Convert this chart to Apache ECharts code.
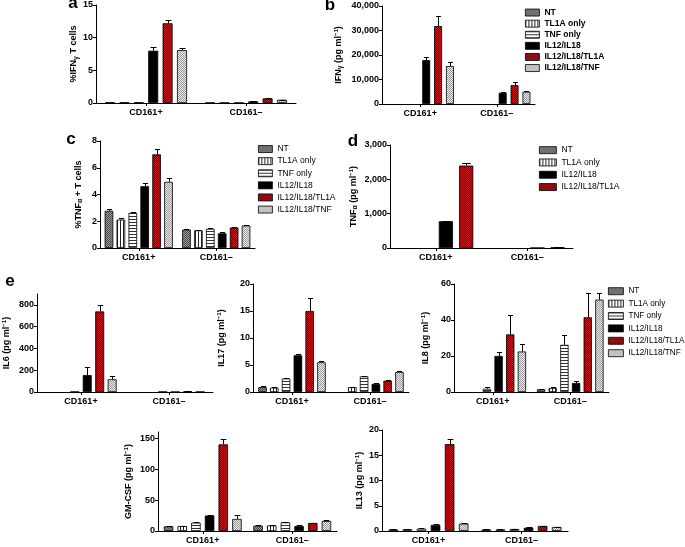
<!DOCTYPE html>
<html><head><meta charset="utf-8">
<script src="https://cdn.jsdelivr.net/npm/echarts/dist/echarts.min.js"></script>
<style>html,body{margin:0;padding:0;background:#fff}#c{width:685px;height:547px}</style>
</head><body><div id="c"></div>
<script>
// ---------- DATA ----------
const groups = ['CD161+', 'CD161–'];
const treatments6 = ['NT', 'TL1A only', 'TNF only', 'IL12/IL18', 'IL12/IL18/TL1A', 'IL12/IL18/TNF'];
const treatments4 = ['NT', 'TL1A only', 'IL12/IL18', 'IL12/IL18/TL1A'];

// each row = one treatment, values [CD161+, CD161–]
// a: %IFNγ T cells
const ifngPctMean = [[0.1, 0.05], [0.1, 0.05], [0.1, 0.05], [8.0, 0.25], [12.2, 0.7], [8.1, 0.5]];
const ifngPctErr  = [[0, 0], [0, 0], [0, 0], [0.6, 0.03], [0.45, 0.05], [0.25, 0.03]];
const ifngPctTicks = [0, 5, 10, 15];
// b: IFNγ pg/ml
const ifngMean = [[null, null], [null, null], [null, null], [17900, 4600], [31800, 7700], [15500, 5000]];
const ifngErr  = [[0, 0], [0, 0], [0, 0], [1300, 350], [4300, 1100], [1600, 400]];
const ifngTicks = [0, 10000, 20000, 30000, 40000];
// c: %TNFα + T cells
const tnfPctMean = [[2.78, 1.38], [2.12, 1.32], [2.62, 1.43], [4.62, 1.1], [7.0, 1.53], [4.95, 1.68]];
const tnfPctErr  = [[0.17, 0.06], [0.15, 0.05], [0.06, 0.1], [0.24, 0.08], [0.4, 0.07], [0.32, 0.07]];
const tnfPctTicks = [0, 2, 4, 6, 8];
// d: TNFα pg/ml (4 treatments)
const tnfMean = [[null, null], [null, null], [780, 3], [2400, 15]];
const tnfErr  = [[0, 0], [0, 0], [12, 0], [70, 2]];
const tnfTicks = [0, 1000, 2000, 3000];
// e: IL6
const il6Mean = [[null, null], [null, null], [2, 2], [155, 1], [740, 8], [117, 2]];
const il6Err  = [[0, 0], [0, 0], [0, 0], [78, 0], [58, 2], [28, 0]];
const il6Ticks = [0, 200, 400, 600, 800];
// e: IL17
const il17Mean = [[0.9, null], [0.8, 0.9], [2.5, 2.9], [6.8, 1.5], [15.0, 2.1], [5.5, 3.7]];
const il17Err  = [[0.15, 0], [0.1, 0.1], [0.15, 0.1], [0.3, 0.15], [2.4, 0.05], [0.3, 0.15]];
const il17Ticks = [0, 5, 10, 15, 20];
// e: IL8
const il8Mean = [[null, 1.5], [null, 2.2], [1.8, 26.2], [20, 5], [32, 41.5], [22.5, 51.3]];
const il8Err  = [[0, 0.2], [0, 0.8], [1, 5.2], [2.5, 0.9], [10.8, 13.5], [4.3, 3.7]];
const il8Ticks = [0, 20, 40, 60];
// e: GM-CSF
const gmcsfMean = [[7.5, 8.5], [8, 9], [13.5, 14], [25, 8], [140, 13], [19.5, 16]];
const gmcsfErr  = [[1, 0.5], [0.5, 0.5], [1, 1], [0.5, 1], [8, 0.5], [6, 1]];
const gmcsfTicks = [0, 50, 100, 150];
// e: IL13
const il13Mean = [[0.3, 0.3], [0.35, 0.3], [0.45, 0.4], [1.2, 0.65], [17.2, 1.0], [1.45, 0.8]];
const il13Err  = [[0.05, 0.05], [0.05, 0.05], [0.05, 0.05], [0.25, 0.05], [1.1, 0.05], [0.1, 0.05]];
const il13Ticks = [0, 5, 10, 15, 20];

// ---------- STYLE ----------
const FONT = 'Liberation Sans, Arial, sans-serif';
function pat(w, h, draw) {
  const c = document.createElement('canvas'); c.width = w; c.height = h;
  draw(c.getContext('2d')); return { image: c, repeat: 'repeat' };
}
const fills = {
  'NT': pat(2, 2, x => { x.fillStyle = '#9c9c9c'; x.fillRect(0, 0, 2, 2); x.fillStyle = '#474747'; x.fillRect(0, 0, 1, 1); x.fillRect(1, 1, 1, 1); }),
  'TL1A only': pat(3, 1, x => { x.fillStyle = '#fff'; x.fillRect(0, 0, 3, 1); x.fillStyle = '#222'; x.fillRect(0, 0, 1, 1); }),
  'TNF only': pat(1, 3, x => { x.fillStyle = '#fff'; x.fillRect(0, 0, 1, 3); x.fillStyle = '#333'; x.fillRect(0, 0, 1, 1); }),
  'IL12/IL18': '#000',
  'IL12/IL18/TL1A': pat(2, 2, x => { x.fillStyle = '#c8161e'; x.fillRect(0, 0, 2, 2); x.fillStyle = '#520606'; x.fillRect(1, 0, 1, 1); x.fillRect(0, 1, 1, 1); }),
  'IL12/IL18/TNF': pat(2, 2, x => { x.fillStyle = '#ececec'; x.fillRect(0, 0, 2, 2); x.fillStyle = '#999'; x.fillRect(0, 0, 1, 1); x.fillRect(1, 1, 1, 1); })
};
const rich = {
  s: { fontSize: 7, fontWeight: 'bold', fontFamily: FONT, verticalAlign: 'bottom', lineHeight: 11 },
  sup: { fontSize: 6, fontWeight: 'bold', fontFamily: FONT, verticalAlign: 'top', lineHeight: 11 }
};
const comma = v => v.toLocaleString('en-US');

const panels = [
  { left: 96, top: 5, width: 200, height: 98, max: 15, ticks: ifngPctTicks, names: treatments6, mean: ifngPctMean, err: ifngPctErr, cg: 0.18, g: 0.44, name: '%IFN{s|γ} T cells', nameGap: 12 },
  { left: 382, top: 6, width: 153, height: 98, max: 40000, ticks: ifngTicks, names: treatments6, mean: ifngMean, err: ifngErr, cg: 0.12, g: 0.5, name: 'IFN{s|γ} (pg ml{sup|−1})', nameGap: 38, fmt: comma },
  { left: 100, top: 141, width: 155, height: 107, max: 8, ticks: tnfPctTicks, names: treatments6, mean: tnfPctMean, err: tnfPctErr, cg: 0.12, g: 0.38, name: '%TNF{s|α} + T cells', nameGap: 16 },
  { left: 390, top: 145, width: 183, height: 103, max: 3000, ticks: tnfTicks, names: treatments4, mean: tnfMean, err: tnfErr, cg: 0.18, g: 0.43, name: 'TNF{s|α} (pg ml{sup|−1})', nameGap: 31, fmt: comma },
  { left: 37, top: 294, width: 176, height: 98, max: 900, ticks: il6Ticks, names: treatments6, mean: il6Mean, err: il6Err, cg: 0.19, g: 0.39, name: 'IL6 (pg ml{sup|−1})', nameGap: 25 },
  { left: 253, top: 284, width: 156, height: 108, max: 20, ticks: il17Ticks, names: treatments6, mean: il17Mean, err: il17Err, cg: 0.135, g: 0.38, name: 'IL17 (pg ml{sup|−1})', nameGap: 26 },
  { left: 454, top: 284, width: 155, height: 108, max: 60, ticks: il8Ticks, names: treatments6, mean: il8Mean, err: il8Err, cg: 0.14, g: 0.4, name: 'IL8 (pg ml{sup|−1})', nameGap: 23 },
  { left: 158, top: 432, width: 179, height: 99, max: 160, ticks: gmcsfTicks, names: treatments6, mean: gmcsfMean, err: gmcsfErr, cg: 0.13, g: 0.44, name: 'GM-CSF (pg ml{sup|−1})', nameGap: 24 },
  { left: 382, top: 430, width: 186, height: 101, max: 20, ticks: il13Ticks, names: treatments6, mean: il13Mean, err: il13Err, cg: 0.14, g: 0.47, name: 'IL13 (pg ml{sup|−1})', nameGap: 17 }
];

const grid = [], xAxis = [], yAxis = [], series = [];
panels.forEach((p, i) => {
  grid.push({ left: p.left, top: p.top, width: p.width, height: p.height, containLabel: false });
  xAxis.push({
    type: 'category', gridIndex: i, data: groups,
    axisLine: { show: true, lineStyle: { color: '#000', width: 1 } },
    axisTick: { show: true, alignWithLabel: true, length: 3, lineStyle: { color: '#000' } },
    axisLabel: { color: '#000', fontSize: 9, fontWeight: 'bold', fontFamily: FONT, margin: 5 }
  });
  yAxis.push({
    type: 'value', gridIndex: i, min: 0, max: p.max,
    name: p.name, nameLocation: 'middle', nameRotate: 90, nameGap: p.nameGap,
    nameTextStyle: { color: '#000', fontSize: 9, fontWeight: 'bold', fontFamily: FONT, lineHeight: 11, rich },
    axisLine: { show: true, lineStyle: { color: '#000', width: 1 } },
    axisTick: { show: true, length: 3, lineStyle: { color: '#000' }, customValues: p.ticks },
    axisLabel: { color: '#000', fontSize: 9, fontWeight: 'bold', fontFamily: FONT, margin: 3, customValues: p.ticks, formatter: p.fmt || (v => String(v)) },
    splitLine: { show: false }
  });
  p.names.forEach((nm, si) => {
    series.push({
      type: 'bar', name: nm, xAxisIndex: i, yAxisIndex: i,
      data: p.mean[si], barGap: (p.g * 100) + '%', barCategoryGap: (p.cg * 100) + '%',
      itemStyle: { color: fills[nm], borderColor: '#000', borderWidth: 0.8 },
      silent: true, animation: false
    });
  });
  const ed = [];
  p.mean.forEach((arr, si) => arr.forEach((v, ci) => { if (v != null && p.err[si][ci] > 0) ed.push([ci, si, v, p.err[si][ci]]); }));
  const n = p.names.length, cg = p.cg, g = p.g;
  series.push({
    type: 'custom', name: 'err' + i, xAxisIndex: i, yAxisIndex: i, z: 5, silent: true, animation: false,
    encode: { x: 0, y: 2 }, data: ed,
    renderItem(params, api) {
      const ci = api.value(0), si = api.value(1), v = api.value(2), e = api.value(3);
      const band = api.size([1, 0])[0];
      const usable = band * (1 - cg);
      const bw = usable / (n + (n - 1) * g);
      const cx = Math.round(api.coord([ci, 0])[0] - usable / 2 + si * bw * (1 + g) + bw / 2) + 0.5;
      const y1 = api.coord([ci, v])[1], y2 = Math.round(api.coord([ci, v + e])[1]) + 0.5;
      const hw = Math.max(2, bw * 0.3);
      return { type: 'group', children: [
        { type: 'line', shape: { x1: cx, y1: y1, x2: cx, y2: y2 }, style: { stroke: '#000', lineWidth: 1 } },
        { type: 'line', shape: { x1: cx - hw, y1: y2, x2: cx + hw, y2: y2 }, style: { stroke: '#000', lineWidth: 1 } }
      ] };
    }
  });
});

function legendAt(names, left, top, iw, lh, bold, fs) {
  return {
    data: names, orient: 'vertical', align: 'left', left: left, top: top, padding: 0,
    itemWidth: iw, itemHeight: 7, itemGap: 0, icon: 'rect', selectedMode: false,
    itemStyle: { borderColor: '#000', borderWidth: 0.8 },
    textStyle: { color: '#000', fontSize: fs || 8.5, fontFamily: FONT, fontWeight: bold ? 'bold' : 'normal', lineHeight: lh }
  };
}
const legend = [
  legendAt(treatments6, 525, 7, 14, 11.1, true),
  legendAt(treatments6, 258, 143, 14, 12.1, false),
  legendAt(treatments4, 539, 144, 17, 12.3, false),
  legendAt(treatments6, 608, 285, 15, 12.4, false, 8.2)
];

const letters = [['a', 73, 12], ['b', 330, 14], ['c', 71, 148], ['d', 353, 150], ['e', 10, 290]];
const graphic = letters.map(([t, x, y]) => ({
  type: 'text', x: x, y: y, silent: true,
  style: { text: t, fill: '#000', font: 'bold 17px ' + FONT, align: 'center', verticalAlign: 'bottom' }
}));

const chart = echarts.init(document.getElementById('c'), null, { renderer: 'canvas', width: 685, height: 547 });
chart.setOption({ animation: false, backgroundColor: '#fff', grid, xAxis, yAxis, series, legend, graphic });
</script>
</body></html>
